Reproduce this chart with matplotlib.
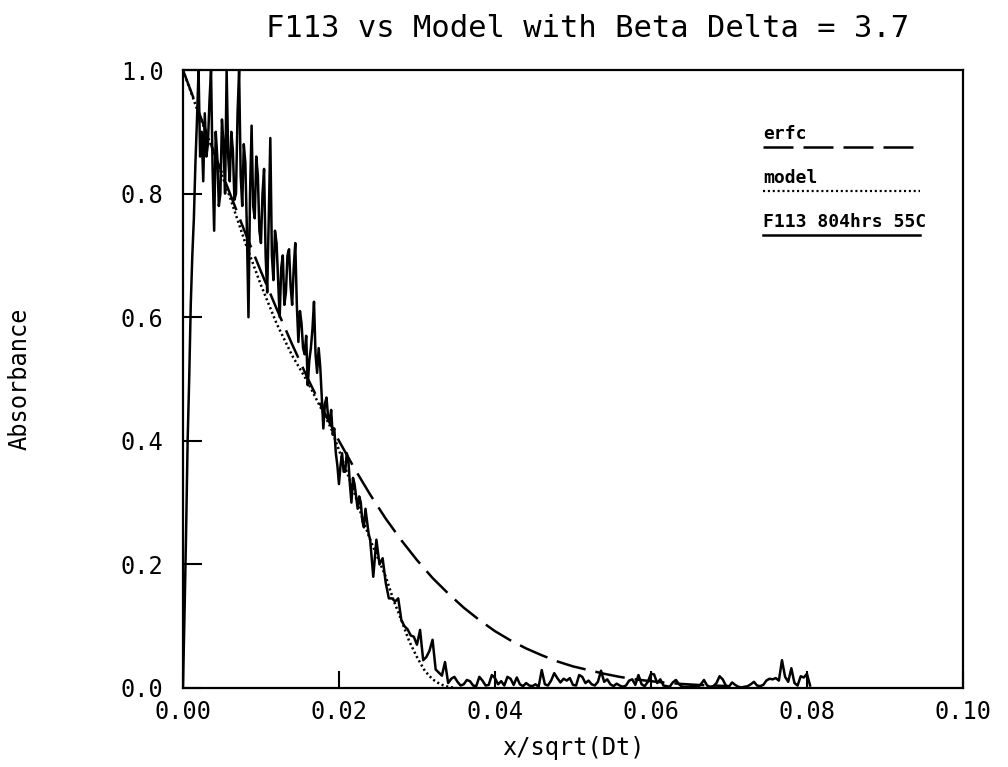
import matplotlib
matplotlib.use('Agg')
import matplotlib.pyplot as plt

# measured F113 profile: near the surface one reading every 0.0002 in
# x/sqrt(Dt), further in one every 0.0004
near_step = 0.0002
near_abs = [
    0.0, 0.12, 0.25, 0.40, 0.50, 0.62, 0.70, 0.76, 0.85, 0.92,
    1.0, 0.86, 0.90, 0.82, 0.93, 0.86, 0.88, 0.95, 1.0, 0.84,
    0.74, 0.90, 0.86, 0.78, 0.80, 0.92, 0.88, 0.80, 1.0, 0.86,
    0.82, 0.90, 0.87, 0.79, 0.80, 0.93, 1.0, 0.83, 0.78, 0.88,
    0.85, 0.74, 0.60, 0.80, 0.91, 0.78, 0.76, 0.86, 0.83, 0.74,
    0.72, 0.80, 0.84, 0.70, 0.64, 0.76, 0.89, 0.70, 0.66, 0.74,
    0.72, 0.66, 0.60, 0.68, 0.70, 0.62, 0.64, 0.70, 0.71, 0.65,
    0.62, 0.68, 0.72, 0.62, 0.56, 0.61, 0.59, 0.55, 0.54, 0.57,
    0.49, 0.53, 0.55, 0.58, 0.625, 0.54, 0.51, 0.55, 0.52, 0.47,
    0.42, 0.46, 0.47, 0.44, 0.43, 0.45, 0.41, 0.42, 0.38, 0.36,
    0.33, 0.36, 0.38, 0.35, 0.35, 0.38, 0.37, 0.33, 0.30, 0.34,
    0.33, 0.31, 0.29, 0.31, 0.30, 0.27, 0.26, 0.29, 0.27, 0.25,
]
far_start = 0.024
far_step = 0.0004
far_abs = [
    0.24, 0.18, 0.24, 0.20, 0.21, 0.17, 0.145, 0.145, 0.14, 0.145,
    0.11, 0.10, 0.095, 0.085, 0.083, 0.07, 0.094, 0.045, 0.05, 0.06,
    0.078, 0.03, 0.025, 0.02, 0.042, 0.008, 0.015, 0.018, 0.010, 0.004,
    0.006, 0.013, 0.011, 0.004, 0.003, 0.018, 0.012, 0.004, 0.005, 0.021,
    0.016, 0.006, 0.011, 0.004, 0.018, 0.015, 0.005, 0.017, 0.006, 0.003,
    0.008, 0.004, 0.003, 0.006, 0.002, 0.029, 0.006, 0.004, 0.012, 0.024,
    0.016, 0.009, 0.015, 0.012, 0.016, 0.005, 0.004, 0.021, 0.018, 0.008,
    0.012, 0.006, 0.004, 0.010, 0.028, 0.010, 0.014, 0.006, 0.003, 0.007,
    0.004, 0.002, 0.004, 0.012, 0.014, 0.005, 0.021, 0.006, 0.003, 0.010,
    0.023, 0.022, 0.008, 0.014, 0.004, 0.003, 0.002, 0.009, 0.013, 0.006,
    0.002, 0.002, 0.002, 0.003, 0.002, 0.001, 0.006, 0.013, 0.004, 0.002,
    0.003, 0.008, 0.019, 0.014, 0.004, 0.002, 0.009, 0.005, 0.002, 0.001,
    0.002, 0.003, 0.006, 0.010, 0.004, 0.003, 0.005, 0.012, 0.015, 0.014,
    0.016, 0.012, 0.045, 0.018, 0.010, 0.032, 0.008, 0.004, 0.019, 0.017,
    0.023, 0.004,
]
f113_x = ([i * near_step for i in range(len(near_abs))]
          + [far_start + i * far_step for i in range(len(far_abs))])
f113_abs = near_abs + far_abs

# erfc profile
erfc_x = [
    0.000, 0.002, 0.004, 0.006, 0.008, 0.010, 0.012, 0.014, 0.016, 0.018,
    0.020, 0.022, 0.024, 0.026, 0.028, 0.030, 0.032, 0.034, 0.036, 0.038,
    0.040, 0.042, 0.044, 0.046, 0.048, 0.050, 0.052, 0.054, 0.056, 0.058,
    0.060, 0.062, 0.064, 0.066, 0.068, 0.070,
]
erfc_abs = [
    1.0, 0.933, 0.866, 0.801, 0.736, 0.674, 0.614, 0.556, 0.501, 0.449,
    0.400, 0.355, 0.313, 0.274, 0.239, 0.207, 0.178, 0.153, 0.130, 0.110,
    0.092, 0.077, 0.064, 0.053, 0.043, 0.035, 0.029, 0.023, 0.018, 0.014,
    0.011, 0.0085, 0.0065, 0.005, 0.004, 0.003,
]

# model with beta delta = 3.7
model_x = [
    0.000, 0.002, 0.004, 0.006, 0.008, 0.010, 0.012, 0.014, 0.016, 0.018,
    0.019, 0.020, 0.021, 0.022, 0.023, 0.024, 0.025, 0.026, 0.027, 0.028,
    0.029, 0.030, 0.031, 0.032, 0.033, 0.034, 0.035,
]
model_abs = [
    1.0, 0.930, 0.865, 0.795, 0.72, 0.652, 0.59, 0.538, 0.495, 0.445,
    0.42, 0.385, 0.35, 0.315, 0.275, 0.24, 0.21, 0.18, 0.142, 0.11,
    0.076, 0.05, 0.028, 0.014, 0.006, 0.002, 0.0,
]

x_ticks = [0.0, 0.02, 0.04, 0.06, 0.08, 0.10]
x_tick_labels = ['0.00', '0.02', '0.04', '0.06', '0.08', '0.10']
y_ticks = [0.0, 0.2, 0.4, 0.6, 0.8, 1.0]
y_tick_labels = ['0.0', '0.2', '0.4', '0.6', '0.8', '1.0']

key_labels = ['erfc', 'model', 'F113 804hrs 55C']

plt.rcParams['lines.scale_dashes'] = False
mono = 'DejaVu Sans Mono'
dash_style = (21.6, 7.2)
dot_style = (1.5, 2.0)

fig = plt.figure(figsize=(10.08, 7.67), dpi=100)
ax = fig.add_axes([0.1815, 0.103, 0.7738, 0.8057])

ax.plot(erfc_x, erfc_abs, color='black', lw=1.8, dashes=dash_style)
ax.plot(model_x, model_abs, color='black', lw=1.8, dashes=dot_style)
ax.plot(f113_x, f113_abs, color='black', lw=1.8)

ax.set_xlim(0, 0.1)
ax.set_ylim(0, 1.0)
ax.set_xticks(x_ticks)
ax.set_xticklabels(x_tick_labels, fontfamily=mono, fontsize=17)
ax.set_yticks(y_ticks)
ax.set_yticklabels(y_tick_labels, fontfamily=mono, fontsize=17)
ax.tick_params(axis='x', direction='in', length=12, width=1.5, pad=9)
ax.tick_params(axis='y', direction='in', length=14, width=1.5, pad=14)
for s in ax.spines.values():
    s.set_linewidth(1.6)

ax.set_title('F113 vs Model with Beta Delta = 3.7', fontfamily=mono,
             fontsize=22, pad=24, x=0.519)
ax.set_xlabel('x/sqrt(Dt)', fontfamily=mono, fontsize=17, va='center')
ax.xaxis.set_label_coords(0.5, -0.097)
ax.set_ylabel('Absorbance', fontfamily=mono, fontsize=17, va='center')
ax.yaxis.set_label_coords(-0.209, 0.5)

# hand-drawn key: label above a sample of each line
key_x0 = 0.744
key_x1 = [0.936, 0.945, 0.945]
key_y = [0.875, 0.804, 0.733]
key_styles = [dict(dashes=dash_style, lw=1.8), dict(dashes=dot_style, lw=1.6),
              dict(lw=1.8)]
for lab, x1, y, st in zip(key_labels, key_x1, key_y, key_styles):
    ax.plot([key_x0, x1], [y, y], color='black', transform=ax.transAxes, **st)
    ax.text(key_x0, y + 0.007, lab, transform=ax.transAxes, fontfamily=mono,
            fontweight='bold', fontsize=13, va='bottom', ha='left')

fig.savefig('out.png', dpi=100)
